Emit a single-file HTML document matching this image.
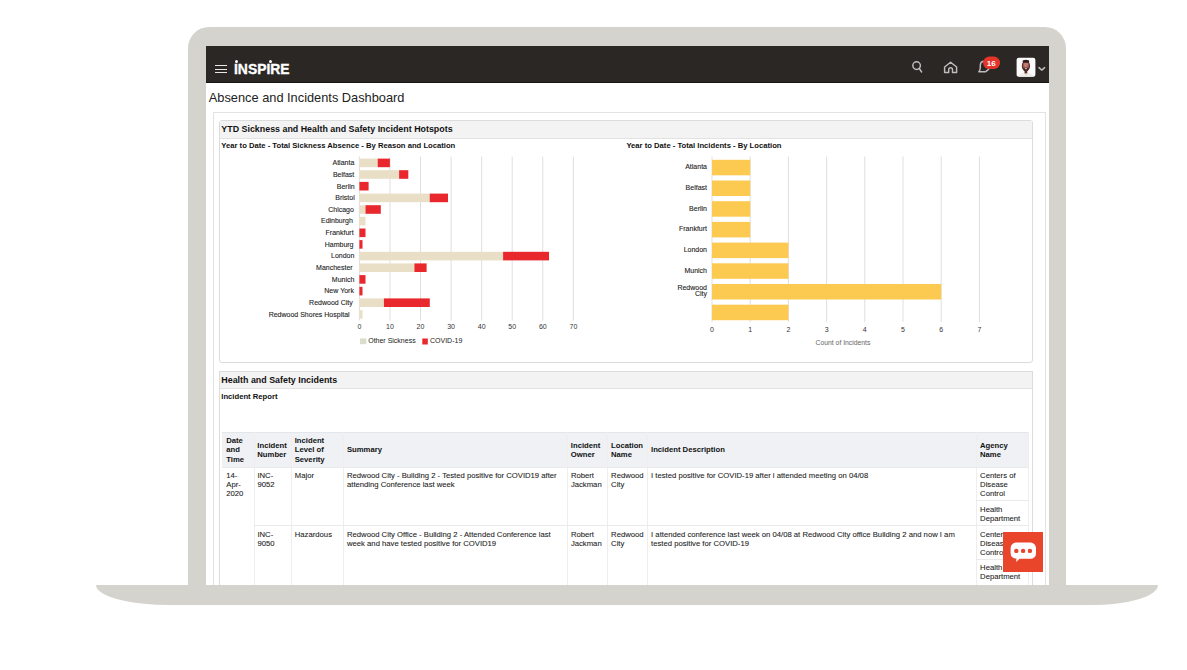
<!DOCTYPE html>
<html><head><meta charset="utf-8"><title>Absence and Incidents Dashboard</title>
<style>
*{margin:0;padding:0;box-sizing:border-box}
html,body{width:1187px;height:670px;overflow:hidden;background:#fff;font-family:"Liberation Sans",Arial,sans-serif;color:#222}
.a{position:absolute}
#lid{position:absolute;left:188px;top:27px;width:878px;height:570px;background:#d5d3cd;border-radius:21px 21px 0 0}
#base{position:absolute;left:96px;top:585px;width:1062px;height:20px;background:#d5d3cd;border-radius:0 0 66px 74px/0 0 20px 20px}
#screen{position:absolute;left:206px;top:46px;width:843px;height:539px;background:#fff;overflow:hidden}
#hdr{position:absolute;left:206px;top:46px;width:843px;height:37px;background:#2b2725;border-bottom:1px solid #171413}
#title{position:absolute;left:208.8px;top:89.5px;font-size:12.8px;color:#222;white-space:nowrap}
.box{position:absolute;border:1px solid #dcdcdc}
.ph{position:absolute;background:#f3f3f3;border-bottom:1px solid #e2e2e2}
.b{font-weight:bold;white-space:nowrap;position:absolute;color:#111}
.t{position:absolute;font-size:7.7px;line-height:9.0px;color:#222;white-space:nowrap;-webkit-text-stroke:0.08px #222}
.th{position:absolute;font-size:7.7px;line-height:9.5px;color:#111;font-weight:bold;white-space:nowrap;display:flex;align-items:center;height:34.5px;top:432.8px}
.vl{position:absolute;width:1px;background:#eeeeee}
.hl{position:absolute;height:1px;background:#eaeaea}
#inspire{position:absolute;left:234.4px;top:60.1px;font-size:15px;font-weight:bold;color:#fff;letter-spacing:0px;transform:scaleX(0.925);-webkit-text-stroke:0.35px #fff;transform-origin:0 0;white-space:nowrap;line-height:17px}
#chat{position:absolute;left:1003px;top:531.5px;width:40px;height:40px;background:#e8452b}
</style></head><body>
<div id="lid"></div><div id="base"></div><div id="screen"></div>
<div class="a" style="left:0;top:0;width:1049px;height:585px;overflow:hidden">
<div id="hdr"></div>
<div class="a" style="left:214.8px;top:65.2px;width:12px;height:1.3px;background:#e6e6e6"></div>
<div class="a" style="left:214.8px;top:68.6px;width:12px;height:1.3px;background:#e6e6e6"></div>
<div class="a" style="left:214.8px;top:71.9px;width:12px;height:1.3px;background:#e6e6e6"></div>
<div id="inspire">INSPIRE</div><div class="a" style="left:235px;top:59.6px;width:3px;height:3px;border-radius:50%;background:#fff"></div><div class="a" style="left:268.8px;top:59.6px;width:3px;height:3px;border-radius:50%;background:#fff"></div>
<div id="title">Absence and Incidents Dashboard</div>
<div class="box" style="left:213px;top:112px;width:833px;height:480px;border-color:#e3e3e3"></div>
<div class="box" style="left:218.5px;top:120px;width:814px;height:243px;border-radius:3px"></div>
<div class="ph" style="left:219.5px;top:121px;width:812px;height:18px"></div>
<div class="b" style="left:221.3px;top:124px;font-size:8.9px">YTD Sickness and Health and Safety Incident Hotspots</div>
<div class="b" style="left:221.3px;top:140.6px;font-size:7.66px">Year to Date - Total Sickness Absence - By Reason and Location</div>
<div class="b" style="left:626.4px;top:140.6px;font-size:7.66px">Year to Date - Total Incidents - By Location</div>
<div class="box" style="left:218.5px;top:370.5px;width:814px;height:240px"></div>
<div class="ph" style="left:219.5px;top:371.5px;width:812px;height:17px"></div>
<div class="b" style="left:221.3px;top:374.5px;font-size:8.9px">Health and Safety Incidents</div>
<div class="b" style="left:221.3px;top:392px;font-size:7.66px">Incident Report</div>
<div class="a" style="left:222.4px;top:432px;width:805.1999999999999px;height:34.5px;background:#eff1f5;border-top:1px solid #e3e6ea"></div>
<div class="th" style="left:226.2px"><div>Date<br>and<br>Time</div></div>
<div class="th" style="left:257.3px"><div>Incident<br>Number</div></div>
<div class="th" style="left:294.7px"><div>Incident<br>Level of<br>Severity</div></div>
<div class="th" style="left:346.9px"><div>Summary</div></div>
<div class="th" style="left:570.8px"><div>Incident<br>Owner</div></div>
<div class="th" style="left:611.0px"><div>Location<br>Name</div></div>
<div class="th" style="left:651.0px"><div>Incident Description</div></div>
<div class="th" style="left:980.0px"><div>Agency<br>Name</div></div>
<div class="vl" style="left:253.5px;top:432px;height:160px"></div>
<div class="vl" style="left:290.9px;top:432px;height:160px"></div>
<div class="vl" style="left:343.1px;top:432px;height:160px"></div>
<div class="vl" style="left:567.0px;top:432px;height:160px"></div>
<div class="vl" style="left:607.2px;top:432px;height:160px"></div>
<div class="vl" style="left:647.2px;top:432px;height:160px"></div>
<div class="vl" style="left:976.2px;top:432px;height:160px"></div>
<div class="vl" style="left:1027.6px;top:432px;height:160px"></div>
<div class="hl" style="left:222.4px;top:466.5px;width:805.1999999999999px"></div>
<div class="hl" style="left:253.5px;top:525.4px;width:774.0999999999999px"></div>
<div class="hl" style="left:976.2px;top:500px;width:51.399999999999864px"></div>
<div class="hl" style="left:976.2px;top:559px;width:51.399999999999864px"></div>
<div class="t" style="left:226.3px;top:471.2px">14-<br>Apr-<br>2020</div>
<div class="t" style="left:257.4px;top:471.2px">INC-<br>9052</div>
<div class="t" style="left:294.8px;top:471.2px">Major</div>
<div class="t" style="left:347.0px;top:471.2px">Redwood City - Building 2 - Tested positive for COVID19 after<br>attending Conference last week</div>
<div class="t" style="left:570.9px;top:471.2px">Robert<br>Jackman</div>
<div class="t" style="left:611.1px;top:471.2px">Redwood<br>City</div>
<div class="t" style="left:651.1px;top:471.2px">I tested positive for COVID-19 after i attended meeting on 04/08</div>
<div class="t" style="left:980.1px;top:471.2px">Centers of<br>Disease<br>Control</div>
<div class="t" style="left:980.1px;top:505.2px">Health<br>Department</div>
<div class="t" style="left:257.4px;top:530.0px">INC-<br>9050</div>
<div class="t" style="left:294.8px;top:530.0px">Hazardous</div>
<div class="t" style="left:347.0px;top:530.0px">Redwood City Office - Building 2 - Attended Conference last<br>week and have tested positive for COVID19</div>
<div class="t" style="left:570.9px;top:530.0px">Robert<br>Jackman</div>
<div class="t" style="left:611.1px;top:530.0px">Redwood<br>City</div>
<div class="t" style="left:651.1px;top:530.0px">I attended conference last week on 04/08 at Redwood City office Building 2 and now I am<br>tested positive for COVID-19</div>
<div class="t" style="left:980.1px;top:530.0px">Centers of<br>Disease<br>Control</div>
<div class="t" style="left:980.1px;top:563.1px">Health<br>Department</div>
<svg class="abs" style="left:0;top:0" width="1187" height="670" viewBox="0 0 1187 670">
<g stroke="#dfdfdf" stroke-width="1">
<line x1="359.4" y1="156.6" x2="359.4" y2="320.5"/>
<line x1="390.0" y1="156.6" x2="390.0" y2="320.5"/>
<line x1="420.5" y1="156.6" x2="420.5" y2="320.5"/>
<line x1="451.1" y1="156.6" x2="451.1" y2="320.5"/>
<line x1="481.7" y1="156.6" x2="481.7" y2="320.5"/>
<line x1="512.2" y1="156.6" x2="512.2" y2="320.5"/>
<line x1="542.8" y1="156.6" x2="542.8" y2="320.5"/>
<line x1="573.4" y1="156.6" x2="573.4" y2="320.5"/>
</g>
<g font-family="Liberation Sans, Arial, sans-serif" font-size="7" fill="#222" stroke="#222" stroke-width="0.1" text-anchor="end">
<text x="354.3" y="165.2">Atlanta</text>
<text x="354.3" y="176.8">Belfast</text>
<text x="354.7" y="188.5">Berlin</text>
<text x="354.7" y="200.2">Bristol</text>
<text x="353.9" y="211.8">Chicago</text>
<text x="352.9" y="223.4">Edinburgh</text>
<text x="353.6" y="235.1">Frankfurt</text>
<text x="353.5" y="246.7">Hamburg</text>
<text x="354.4" y="258.4">London</text>
<text x="352.7" y="270.1">Manchester</text>
<text x="354.4" y="281.7">Munich</text>
<text x="353.9" y="293.4">New York</text>
<text x="352.7" y="305.0">Redwood City</text>
<text x="349.6" y="316.7">Redwood Shores Hospital</text>
</g>
<rect x="359.4" y="158.6" width="18.3" height="8.6" fill="#e8dfc6"/>
<rect x="377.7" y="158.6" width="12.2" height="8.6" fill="#e8282c"/>
<rect x="359.4" y="170.2" width="39.7" height="8.6" fill="#e8dfc6"/>
<rect x="399.1" y="170.2" width="9.2" height="8.6" fill="#e8282c"/>
<rect x="359.4" y="181.9" width="9.2" height="8.6" fill="#e8282c"/>
<rect x="359.4" y="193.6" width="70.3" height="8.6" fill="#e8dfc6"/>
<rect x="429.7" y="193.6" width="18.3" height="8.6" fill="#e8282c"/>
<rect x="359.4" y="205.2" width="6.1" height="8.6" fill="#e8dfc6"/>
<rect x="365.5" y="205.2" width="15.3" height="8.6" fill="#e8282c"/>
<rect x="359.4" y="216.8" width="6.1" height="8.6" fill="#e8dfc6"/>
<rect x="359.4" y="228.5" width="6.1" height="8.6" fill="#e8282c"/>
<rect x="359.4" y="240.1" width="3.1" height="8.6" fill="#e8282c"/>
<rect x="359.4" y="251.8" width="143.7" height="8.6" fill="#e8dfc6"/>
<rect x="503.1" y="251.8" width="45.9" height="8.6" fill="#e8282c"/>
<rect x="359.4" y="263.4" width="55.0" height="8.6" fill="#e8dfc6"/>
<rect x="414.4" y="263.4" width="12.2" height="8.6" fill="#e8282c"/>
<rect x="359.4" y="275.1" width="6.1" height="8.6" fill="#e8282c"/>
<rect x="359.4" y="286.8" width="3.1" height="8.6" fill="#e8282c"/>
<rect x="359.4" y="298.4" width="24.5" height="8.6" fill="#e8dfc6"/>
<rect x="383.9" y="298.4" width="45.9" height="8.6" fill="#e8282c"/>
<rect x="359.4" y="310.1" width="3.1" height="8.6" fill="#e8dfc6"/>
<g font-family="Liberation Sans, Arial, sans-serif" font-size="7" fill="#333" text-anchor="middle">
<text x="359.4" y="329">0</text>
<text x="390.0" y="329">10</text>
<text x="420.5" y="329">20</text>
<text x="451.1" y="329">30</text>
<text x="481.7" y="329">40</text>
<text x="512.2" y="329">50</text>
<text x="542.8" y="329">60</text>
<text x="573.4" y="329">70</text>
</g>
<rect x="360" y="338.4" width="6.3" height="5.8" fill="#dcdccb"/>
<text x="368.2" y="343.3" font-family="Liberation Sans, Arial, sans-serif" font-size="7" fill="#222">Other Sickness</text>
<rect x="422.3" y="338.5" width="5.5" height="6" fill="#e8282c"/>
<text x="430" y="343.3" font-family="Liberation Sans, Arial, sans-serif" font-size="7" fill="#222">COVID-19</text>
<g stroke="#dfdfdf" stroke-width="1">
<line x1="712.0" y1="156.5" x2="712.0" y2="322"/>
<line x1="750.2" y1="156.5" x2="750.2" y2="322"/>
<line x1="788.4" y1="156.5" x2="788.4" y2="322"/>
<line x1="826.6" y1="156.5" x2="826.6" y2="322"/>
<line x1="864.8" y1="156.5" x2="864.8" y2="322"/>
<line x1="903.0" y1="156.5" x2="903.0" y2="322"/>
<line x1="941.2" y1="156.5" x2="941.2" y2="322"/>
<line x1="979.4" y1="156.5" x2="979.4" y2="322"/>
</g>
<rect x="712.0" y="159.8" width="38.2" height="15.5" fill="#fcca50"/>
<rect x="712.0" y="180.5" width="38.2" height="15.5" fill="#fcca50"/>
<rect x="712.0" y="201.2" width="38.2" height="15.5" fill="#fcca50"/>
<rect x="712.0" y="221.9" width="38.2" height="15.5" fill="#fcca50"/>
<rect x="712.0" y="242.6" width="76.4" height="15.5" fill="#fcca50"/>
<rect x="712.0" y="263.3" width="76.4" height="15.5" fill="#fcca50"/>
<rect x="712.0" y="284.0" width="229.2" height="15.5" fill="#fcca50"/>
<rect x="712.0" y="304.7" width="76.4" height="15.5" fill="#fcca50"/>
<g font-family="Liberation Sans, Arial, sans-serif" font-size="7" fill="#222" stroke="#222" stroke-width="0.1" text-anchor="end">
<text x="707" y="169.1">Atlanta</text>
<text x="707" y="189.8">Belfast</text>
<text x="707" y="210.5">Berlin</text>
<text x="707" y="231.2">Frankfurt</text>
<text x="707" y="251.9">London</text>
<text x="707" y="272.6">Munich</text>
<text x="707" y="289.5">Redwood</text>
<text x="707" y="296.0">City</text>
</g>
<g font-family="Liberation Sans, Arial, sans-serif" font-size="7" fill="#333" text-anchor="middle">
<text x="712.0" y="331.5">0</text>
<text x="750.2" y="331.5">1</text>
<text x="788.4" y="331.5">2</text>
<text x="826.6" y="331.5">3</text>
<text x="864.8" y="331.5">4</text>
<text x="903.0" y="331.5">5</text>
<text x="941.2" y="331.5">6</text>
<text x="979.4" y="331.5">7</text>
</g>
<text x="843" y="344.5" text-anchor="middle" font-family="Liberation Sans, Arial, sans-serif" font-size="6.8" fill="#666">Count of Incidents</text>
</svg>
<svg class="a" style="left:0;top:0" width="1187" height="670" viewBox="0 0 1187 670">
<g fill="none" stroke="#bdbdbd" stroke-width="1.45" stroke-linecap="round" stroke-linejoin="round">
<circle cx="916.6" cy="65.6" r="3.8"/>
<line x1="919.3" y1="68.5" x2="921.6" y2="72"/>
<path d="M944.6 72.4 V67 L950.6 62.2 L956.6 67 V72.4 H952.5 V69.6 A1.9 1.9 0 0 0 948.7 69.6 V72.4 Z"/>
<path d="M988.8 69.2 L985.4 71.8 H978.8 C979.9 70.6 980.3 69.6 980.3 67.6 V65.2 C980.3 63.2 981.2 61.8 983.4 61.3"/>
<path d="M1039 67.6 L1041.8 70.1 L1044.6 67.6"/>
</g>
<rect x="983.1" y="56.6" width="16.9" height="12.5" rx="6.2" fill="#e5352b"/>
<text x="991.3" y="65.9" text-anchor="middle" font-family="Liberation Sans, Arial, sans-serif" font-weight="bold" font-size="8" fill="#fff">16</text>
<rect x="1016.6" y="57.8" width="18.8" height="19" rx="2.2" fill="#fbfbfb"/>
<path d="M1018.5 76.8 C1019.5 73.8 1022.5 72.8 1026 72.8 C1029.5 72.8 1032.5 73.8 1033.5 76.8 Z" fill="#eeebe8"/>
<rect x="1024.5" y="70" width="2.8" height="3.4" fill="#5a2e28"/>
<path d="M1024.4 72.9 L1026 75.2 L1027.6 72.9" fill="none" stroke="#c9c2bd" stroke-width="0.6"/>
<ellipse cx="1025.9" cy="65.9" rx="4.1" ry="5.4" fill="#4a2522"/>
<ellipse cx="1025.9" cy="65.3" rx="3.2" ry="3.9" fill="#9c5850"/>
<ellipse cx="1025.9" cy="64.6" rx="2.1" ry="2.6" fill="#c07a72"/>
<ellipse cx="1025.9" cy="61.2" rx="3.3" ry="1.5" fill="#2f1a19"/>
<path d="M1023.4 67.6 Q1025.9 72.8 1028.4 67.6 Q1025.9 69.6 1023.4 67.6 Z" fill="#2b1513"/>
<ellipse cx="1025.9" cy="68.7" rx="1.2" ry="0.55" fill="#f4eeea"/>
</svg>
<div id="chat"></div><svg class="a" style="left:1003px;top:531.5px" width="40" height="40" viewBox="0 0 40 40">
<path d="M13 10.6 H27.6 A5.4 5.4 0 0 1 33 16 V21.4 A5.4 5.4 0 0 1 27.6 26.8 H16.6 L13.2 29.9 L13.4 26.6 A5.4 5.4 0 0 1 7.6 21.4 V16 A5.4 5.4 0 0 1 13 10.6 Z" fill="#fff"/>
<circle cx="13.3" cy="18.9" r="2.2" fill="#e8452b"/><circle cx="20.1" cy="18.9" r="2.2" fill="#e8452b"/><circle cx="26.9" cy="18.9" r="2.2" fill="#e8452b"/>
</svg>
</div>
</body></html>
